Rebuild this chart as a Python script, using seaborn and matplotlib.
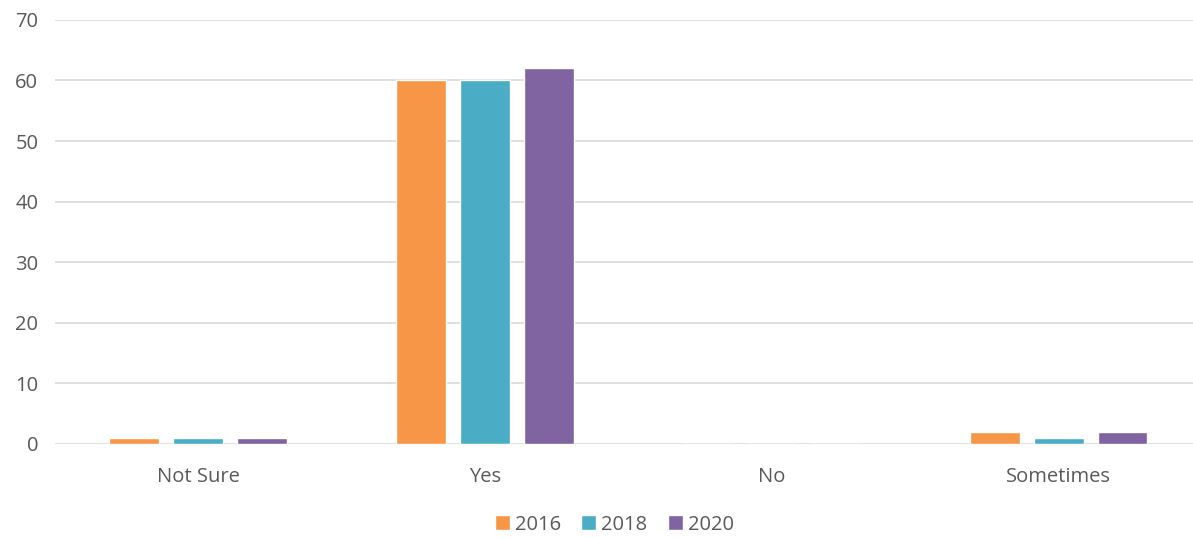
import matplotlib
matplotlib.use("Agg")
import matplotlib.pyplot as plt
import seaborn as sns
import pandas as pd

categories = ["Not Sure", "Yes", "No", "Sometimes"]
years = ["2016", "2018", "2020"]
values_2016 = [1, 60, 0, 2]
values_2018 = [1, 60, 0, 1]
values_2020 = [1, 62, 0, 2]
colors = ["#F79646", "#4BACC6", "#8064A2"]
yticks = [0, 10, 20, 30, 40, 50, 60, 70]

sns.set_theme(style="white")
plt.rcParams['font.family'] = ['Open Sans', 'DejaVu Sans']
text_color = "#595959"

rows = []
for y, vals in zip(years, [values_2016, values_2018, values_2020]):
    for c, v in zip(categories, vals):
        rows.append({"cat": c, "year": y, "value": v})
df = pd.DataFrame(rows)

fig = plt.figure(figsize=(11.93, 5.38), dpi=100)
ax = fig.add_axes([0.0461, 0.175, 0.9614, 0.788])
ax.set_axisbelow(True)
for t in yticks:
    ax.axhline(t, color="#D9D9D9", lw=1.2, zorder=0)

sns.barplot(data=df, x="cat", y="value", hue="year", order=categories,
            hue_order=years, palette=colors, width=0.669, gap=0.22,
            saturation=1, ax=ax, legend=True, zorder=2)

ax.set_xlim(-0.5, 3.5)
ax.set_ylim(0, 70)
ax.set_yticks(yticks)
ax.set_xlabel("")
ax.set_ylabel("")
for s in ax.spines.values():
    s.set_visible(False)
ax.tick_params(axis="both", length=0, colors=text_color, labelsize=14.5)
ax.tick_params(axis="x", pad=17)
ax.tick_params(axis="y", pad=12)
for lbl in ax.get_yticklabels():
    lbl.set_horizontalalignment("right")

handles, labels = ax.get_legend_handles_labels()
ax.legend_.remove()
fig.legend(handles, labels, loc="center", bbox_to_anchor=(0.515, 0.025),
           ncol=3, frameon=False, fontsize=14.5, labelcolor=text_color,
           handlelength=0.75, handleheight=0.75, handletextpad=0.25,
           columnspacing=1.0, borderpad=0.2)

fig.savefig("out.png", dpi=100)
